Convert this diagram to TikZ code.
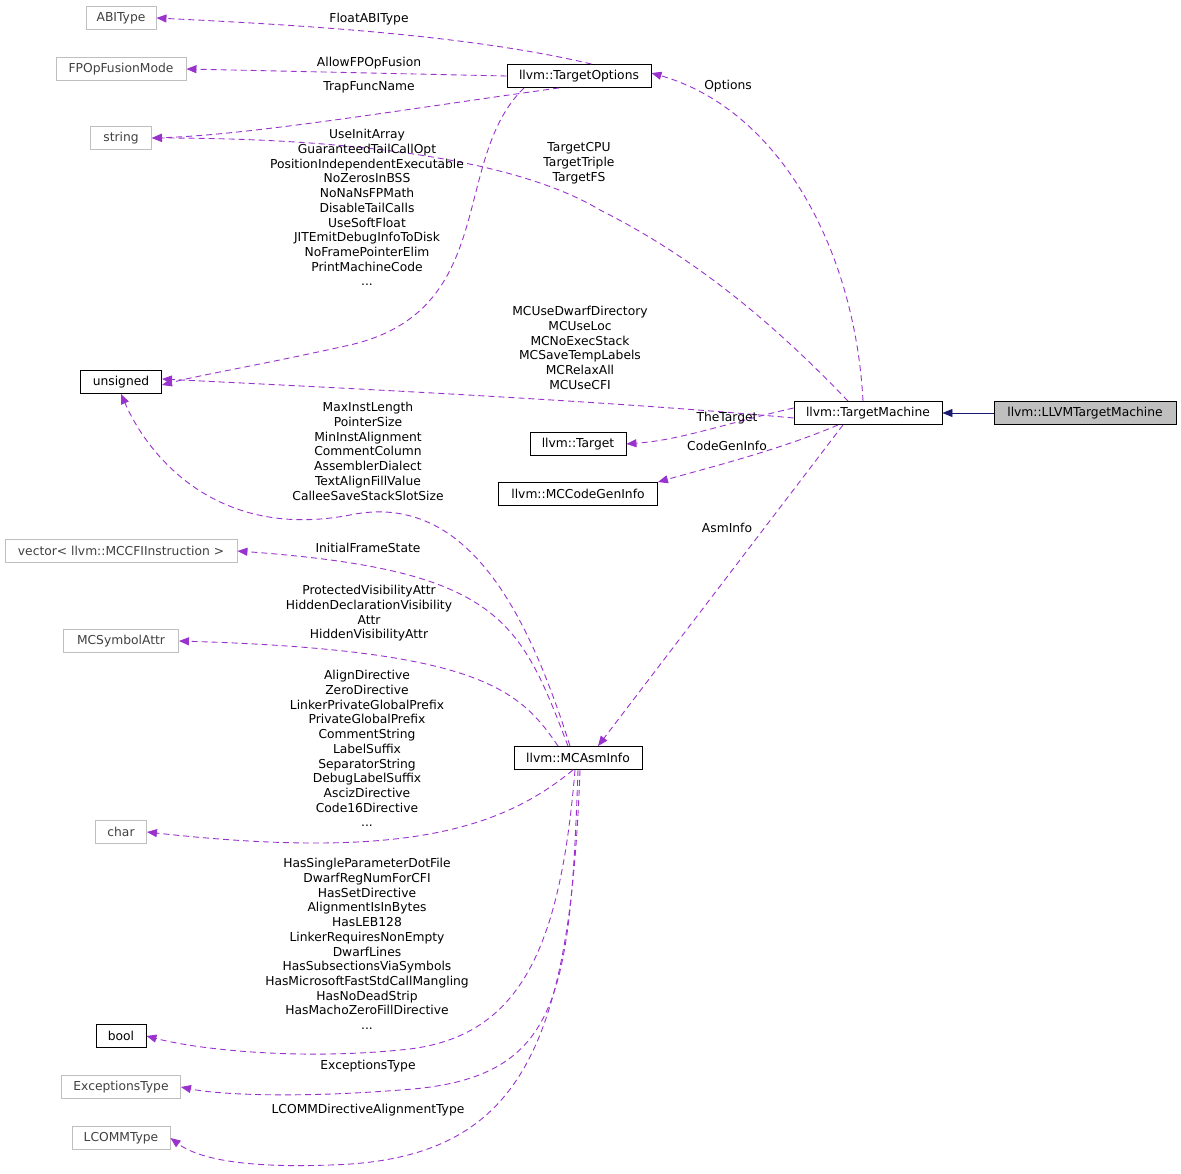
\documentclass[tikz,border=0pt]{standalone}
\usepackage{fontspec}
\setmainfont{DejaVu Sans}
\usetikzlibrary{arrows.meta}
\begin{document}
\begin{tikzpicture}[x=1pt,y=-1pt,
  every node/.style={font=\fontsize{12.3}{14.7}\selectfont},
  cls/.style={draw=black,line width=0.9pt,fill=white,minimum height=23pt,inner xsep=2pt,anchor=center},
  ext/.style={draw=gray!50,line width=0.9pt,fill=white,minimum height=23pt,inner xsep=2pt,text=black!75},
  dep/.style={line width=0.9pt,dash pattern=on 6pt off 4pt,-{Triangle[length=10pt,width=8pt]},color={rgb,255:red,154;green,50;blue,205}},
  inh/.style={line width=0.9pt,draw={rgb,255:red,25;green,25;blue,112},-{Triangle[length=10pt,width=8pt]}},
  lbl/.style={align=center,text=black}]
\useasboundingbox (0,0) rectangle (1181,1174);
\node[ext,minimum width=70pt] (abi) at (121,18) {ABIType};
\node[ext,minimum width=130pt] (fp) at (121,69) {FPOpFusionMode};
\node[ext,minimum width=61pt] (str) at (121,138) {string};
\node[cls,minimum width=144pt] (to) at (579,76) {llvm::TargetOptions};
\node[cls,minimum width=81pt] (uns) at (121,382) {unsigned};
\node[cls,minimum width=148pt] (tm) at (868,413) {llvm::TargetMachine};
\node[cls,minimum width=182pt,fill={rgb,255:red,191;green,191;blue,191}] (ltm) at (1085,413) {llvm::LLVMTargetMachine};
\node[cls,minimum width=96pt] (tg) at (578,444) {llvm::Target};
\node[cls,minimum width=159pt] (cg) at (578,494) {llvm::MCCodeGenInfo};
\node[ext,minimum width=232pt] (vec) at (121,551) {vector< llvm::MCCFIInstruction >};
\node[ext,minimum width=115pt] (sym) at (121,641) {MCSymbolAttr};
\node[cls,minimum width=128pt] (asm) at (578,758) {llvm::MCAsmInfo};
\node[ext,minimum width=51pt] (chr) at (121,832) {char};
\node[cls,minimum width=50pt] (bool) at (121,1036) {bool};
\node[ext,minimum width=119pt] (exc) at (121,1087) {ExceptionsType};
\node[ext,minimum width=98pt] (lc) at (121,1138) {LCOMMType};

\draw[inh] (ltm.west) -- (tm.east);
\draw[dep] ([xshift=-60pt]to.north east) .. controls (470,35) and (300,25) .. (abi.east);
\draw[dep] (to.west) -- (fp.east);
\draw[dep] ([xshift=-20pt]to.south) .. controls (400,110) and (250,135) .. (str.east);
\draw[dep] ([xshift=-55pt]to.south) .. controls (450,160) and (500,310) .. (350,345) .. controls (260,365) and (200,375) .. ([yshift=-3pt]uns.east);
\draw[dep] ([xshift=-5pt]tm.north) .. controls (855,250) and (780,110) .. ([yshift=3pt]to.east);
\draw[dep] ([xshift=-20pt]tm.north) .. controls (780,330) and (700,260) .. (600,210) .. controls (500,150) and (300,138) .. (str.east);
\draw[dep] ([yshift=-5pt]tm.west) .. controls (600,400) and (300,386) .. ([yshift=3pt]uns.east);
\draw[dep] ([yshift=5pt]tm.west) .. controls (720,425) and (680,440) .. (tg.east);
\draw[dep] ([xshift=-30pt]tm.south) .. controls (780,450) and (700,470) .. (cg.north east);
\draw[dep] ([xshift=-25pt]tm.south) -- ([xshift=20pt]asm.north);
\draw[dep] ([xshift=-8pt]asm.north) .. controls (530,620) and (470,490) .. (350,515) .. controls (220,540) and (150,460) .. (uns.south);
\draw[dep] ([xshift=-10pt]asm.north) .. controls (520,620) and (500,570) .. (vec.east);
\draw[dep] ([xshift=-20pt]asm.north) .. controls (520,690) and (480,650) .. (sym.east);
\draw[dep] ([xshift=-5pt]asm.south) .. controls (500,830) and (400,860) .. (chr.east);
\draw[dep] ([xshift=-3pt]asm.south) .. controls (560,950) and (520,1040) .. (400,1050) .. controls (300,1060) and (200,1050) .. (bool.east);
\draw[dep] (asm.south) .. controls (570,1000) and (560,1080) .. (400,1090) .. controls (300,1098) and (220,1095) .. (exc.east);
\draw[dep] ([xshift=2pt]asm.south) .. controls (570,1050) and (520,1160) .. (330,1165) .. controls (250,1168) and (200,1160) .. (lc.east);

\node[lbl] at (369,19) {FloatABIType};
\node[lbl] at (369,63) {AllowFPOpFusion};
\node[lbl] at (369,87) {TrapFuncName};
\node[lbl,anchor=north] at (367,126) {UseInitArray\\GuaranteedTailCallOpt\\PositionIndependentExecutable\\NoZerosInBSS\\NoNaNsFPMath\\DisableTailCalls\\UseSoftFloat\\JITEmitDebugInfoToDisk\\NoFramePointerElim\\PrintMachineCode\\...};
\node[lbl] at (728,86) {Options};
\node[lbl,anchor=north] at (579,139) {TargetCPU\\TargetTriple\\TargetFS};
\node[lbl,anchor=north] at (580,303) {MCUseDwarfDirectory\\MCUseLoc\\MCNoExecStack\\MCSaveTempLabels\\MCRelaxAll\\MCUseCFI};
\node[lbl] at (727,418) {TheTarget};
\node[lbl] at (727,446) {CodeGenInfo};
\node[lbl] at (727,528) {AsmInfo};
\node[lbl,anchor=north] at (368,399) {MaxInstLength\\PointerSize\\MinInstAlignment\\CommentColumn\\AssemblerDialect\\TextAlignFillValue\\CalleeSaveStackSlotSize};
\node[lbl] at (368,548) {InitialFrameState};
\node[lbl,anchor=north] at (369,582) {ProtectedVisibilityAttr\\HiddenDeclarationVisibility\\Attr\\HiddenVisibilityAttr};
\node[lbl,anchor=north] at (367,667) {AlignDirective\\ZeroDirective\\LinkerPrivateGlobalPrefix\\PrivateGlobalPrefix\\CommentString\\LabelSuffix\\SeparatorString\\DebugLabelSuffix\\AscizDirective\\Code16Directive\\...};
\node[lbl,anchor=north] at (367,855) {HasSingleParameterDotFile\\DwarfRegNumForCFI\\HasSetDirective\\AlignmentIsInBytes\\HasLEB128\\LinkerRequiresNonEmpty\\DwarfLines\\HasSubsectionsViaSymbols\\HasMicrosoftFastStdCallMangling\\HasNoDeadStrip\\HasMachoZeroFillDirective\\...};
\node[lbl] at (368,1066) {ExceptionsType};
\node[lbl] at (368,1110) {LCOMMDirectiveAlignmentType};
\end{tikzpicture}
\end{document}
